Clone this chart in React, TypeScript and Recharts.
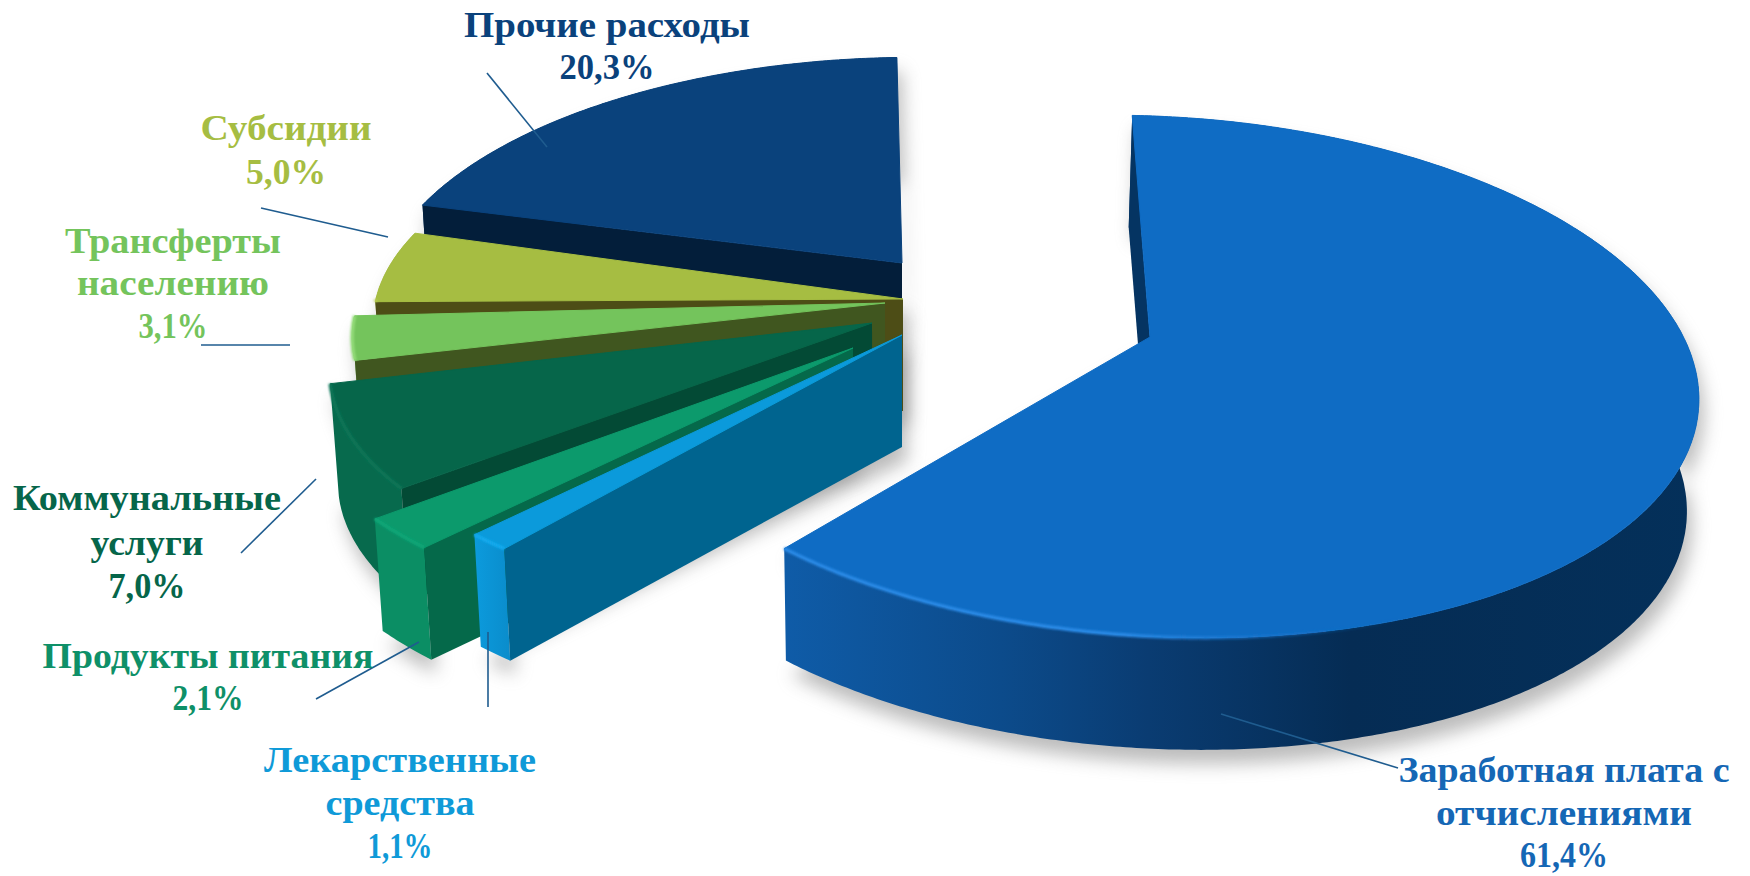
import { PieChart, Pie } from 'recharts';

// back to front, so later slices paint over earlier ones
const CATEGORIES = [
  'Прочие расходы',
  'Субсидии',
  'Трансферты населению',
  'Коммунальные услуги',
  'Продукты питания',
  'Лекарственные средства',
  'Заработная плата с отчислениями',
];
const VALUES = [20.3, 5.0, 3.1, 7.0, 2.1, 1.1, 61.4];

const LABEL_LINES = [
  ['Прочие расходы'],
  ['Субсидии'],
  ['Трансферты', 'населению'],
  ['Коммунальные', 'услуги'],
  ['Продукты питания'],
  ['Лекарственные', 'средства'],
  ['Заработная плата с', 'отчислениями'],
];

const data = CATEGORIES.map((name, i) => ({ name, value: VALUES[i], index: i }));

const CX = 900;
const CY = 320;
const RADIUS = 543;
const TILT = 0.469;
const PERSPECTIVE = 0.1516;
const DEPTH = 112;
const VANISH_X = 900;
const FLOOR_SCALE = 0.985;

// where each pulled-out slice sits relative to the pie centre, its ellipse scale and skew
const SLICE_LAYOUT = [
  { dx: 2, dy: -57, kx: 0.955, ky: 0.93, tx: 0, sx: -14, sy: 0 },
  { dx: 3, dy: -21, kx: 0.965, ky: 0.9, tx: 0, sx: 0, sy: 0.02 },
  { dx: -15, dy: -17, kx: 0.97, ky: 0.87, tx: 0, sx: 0, sy: 0 },
  { dx: -28, dy: 3, kx: 0.98, ky: 0.92, tx: 0, sx: -24, sy: 0 },
  { dx: -47, dy: 28, kx: 1.033, ky: 0.95, tx: 0, sx: 0, sy: 0 },
  { dx: 2, dy: 15, kx: 1.03, ky: 0.95, tx: 0, sx: 0, sy: 0 },
  { dx: 250, dy: 17, kx: 0.984, ky: 1.0, tx: 7, sx: 7, sy: 0.035 },
];

const SLICE_COLORS = [
  { face: '#0A427C', side: '#0A3A6C', cut: '#031E3A', text: '#0A427C', rim: 'none' },
  { face: '#A6BD42', side: '#93A838', cut: '#4D4D16', text: '#A6BD42', rim: '#B9CC55' },
  { face: '#74C45C', side: '#6AB553', cut: '#40561F', text: '#74C45C', rim: '#94DC7A' },
  { face: '#06664A', side: '#076A4D', cut: '#034A35', text: '#06664A', rim: '#0B7556' },
  { face: '#0C9A6C', side: '#0B8E64', cut: '#05694A', text: '#0E9068', rim: '#10A677' },
  { face: '#0B9ADB', side: 'url(#lekWall)', cut: '#00648F', text: '#0F9AD8', rim: '#12AAEE' },
  { face: '#0F6CC4', side: 'url(#bigWall)', cut: '#053462', text: '#1567B5', rim: 'url(#bigRim)' },
];

// text block: centre x, line baselines, fitted widths (last entry is the percent line)
const LABEL_LAYOUT = [
  { x: 607, y: [37, 79], w: [286, 95], line: [487, 73, 547, 147] },
  { x: 286, y: [140, 184], w: [171, 80], line: [261, 208, 388, 237] },
  { x: 173, y: [253, 295, 338], w: [216, 192, 69], line: [201, 345, 290, 345] },
  { x: 147, y: [510, 555, 598], w: [268, 113, 77], line: [316, 479, 241, 553] },
  { x: 208, y: [668, 710], w: [331, 71], line: [419, 642, 316, 699] },
  { x: 400, y: [772, 815, 858], w: [272, 149, 65], line: [488, 632, 488, 707] },
  { x: 1564, y: [782, 825, 867], w: [331, 256, 88], line: [1221, 714, 1398, 768] },
];

const project = (angle: number, i: number, cx: number, cy: number, r: number, floor = false) => {
  const { dx, dy, kx, ky, tx, sx, sy } = SLICE_LAYOUT[i];
  const t = ((90 - angle) * Math.PI) / 180;
  const X = Math.sin(t);
  const Y = -Math.cos(t);
  const w = 1 - PERSPECTIVE * Y;
  const x = cx + dx + (r * kx * X + tx + sx * Y) / w;
  const y = cy + dy + (r * TILT * ky * Y + sy * r * kx * X) / w;
  if (!floor) return [x, y];
  return [VANISH_X + (x - VANISH_X) * FLOOR_SCALE, y + DEPTH];
};

const apex = (i: number, cx: number, cy: number, floor = false) => {
  const { dx, dy } = SLICE_LAYOUT[i];
  const x = cx + dx;
  const y = cy + dy;
  if (!floor) return [x, y];
  return [VANISH_X + (x - VANISH_X) * FLOOR_SCALE, y + DEPTH];
};

const arc = (a1: number, a2: number, i: number, cx: number, cy: number, r: number, floor = false) => {
  const pts: number[][] = [];
  const n = Math.max(2, Math.ceil(Math.abs(a2 - a1) * 2));
  for (let k = 0; k <= n; k++) {
    pts.push(project(a1 + ((a2 - a1) * k) / n, i, cx, cy, r, floor));
  }
  return pts;
};

const toPath = (pts: number[][], close = true) =>
  pts.map((p, k) => `${k ? 'L' : 'M'}${p[0].toFixed(1)} ${p[1].toFixed(1)}`).join(' ') + (close ? ' Z' : '');

const Slice3D = (props: any) => {
  const { cx, cy, outerRadius, startAngle, endAngle, payload } = props;
  const i = payload.index;
  const c = SLICE_COLORS[i];
  const a1 = Math.min(startAngle, endAngle);
  const a2 = Math.max(startAngle, endAngle);
  const top = arc(a1, a2, i, cx, cy, outerRadius);
  const floor = arc(a1, a2, i, cx, cy, outerRadius, true);
  const topApex = apex(i, cx, cy);
  const floorApex = apex(i, cx, cy, true);
  const startTop = project(a2, i, cx, cy, outerRadius);
  const startFloor = project(a2, i, cx, cy, outerRadius, true);
  // the bevel only catches light on the part of the rim nearer the viewer
  const rimPoints = top.filter((p) => p[1] > topApex[1]);
  return (
    <g>
      <path d={toPath([...top, ...[...floor].reverse()])} fill={c.side} />
      <path d={toPath([topApex, startTop, startFloor, floorApex])} fill={c.cut} />
      <path d={toPath([topApex, ...top])} fill={c.face} stroke={c.face} strokeWidth={1} strokeLinejoin="round" />
      {c.rim !== 'none' && rimPoints.length > 1 && (
        <path d={toPath(rimPoints, false)} fill="none" stroke={c.rim} strokeWidth={3.5} filter="url(#rimBlur)" />
      )}
    </g>
  );
};

const SliceShadow = (props: any) => {
  const { cx, cy, outerRadius, startAngle, endAngle, payload } = props;
  const i = payload.index;
  const a1 = Math.min(startAngle, endAngle);
  const a2 = Math.max(startAngle, endAngle);
  const top = arc(a1, a2, i, cx, cy, outerRadius);
  const floor = arc(a1, a2, i, cx, cy, outerRadius, true);
  const shadow = [apex(i, cx, cy), ...top, ...[...floor].reverse(), apex(i, cx, cy, true)];
  return <path d={toPath(shadow)} fill="#7a7a7a" opacity={0.5} transform="translate(5 14)" filter="url(#softShadow)" />;
};

const SliceLabel = (props: any) => {
  const i = props.payload?.index ?? props.index;
  const layout = LABEL_LAYOUT[i];
  const lines = [...LABEL_LINES[i], `${VALUES[i].toFixed(1).replace('.', ',')}%`];
  const [x1, y1, x2, y2] = layout.line;
  return (
    <g>
      <line x1={x1} y1={y1} x2={x2} y2={y2} stroke="#1F5C8F" strokeWidth={1.6} />
      {lines.map((t, k) => (
        <text
          key={t}
          x={layout.x}
          y={layout.y[k]}
          textAnchor="middle"
          textLength={layout.w[k]}
          lengthAdjust="spacingAndGlyphs"
          fontFamily="'Liberation Serif', serif"
          fontWeight={700}
          fontSize={36}
          fill={SLICE_COLORS[i].text}
        >
          {t}
        </text>
      ))}
    </g>
  );
};

const App = () => {
  return (
    <div style={{ position: 'absolute', left: 0, top: 0, width: 1750, height: 876, background: '#fff' }}>
      <PieChart width={1750} height={876} margin={{ top: 0, right: 0, bottom: 0, left: 0 }}>
        <defs>
          <filter id="softShadow" x="-10%" y="-10%" width="120%" height="130%">
            <feGaussianBlur stdDeviation="9" />
          </filter>
          <filter id="rimBlur" filterUnits="userSpaceOnUse" x="0" y="0" width="1750" height="876">
            <feGaussianBlur stdDeviation="1.2" />
          </filter>
          <linearGradient id="bigWall" gradientUnits="userSpaceOnUse" x1="781" y1="0" x2="1700" y2="0">
            <stop offset="0" stopColor="#0F5CA8" />
            <stop offset="0.24" stopColor="#0C4B8B" />
            <stop offset="0.4" stopColor="#0A3C72" />
            <stop offset="0.62" stopColor="#052C54" />
            <stop offset="1" stopColor="#04305A" />
          </linearGradient>
          <linearGradient id="bigRim" gradientUnits="userSpaceOnUse" x1="781" y1="0" x2="1400" y2="0">
            <stop offset="0" stopColor="#2A8AE6" />
            <stop offset="0.55" stopColor="#2A8AE6" />
            <stop offset="1" stopColor="#0F6CC4" stopOpacity="0" />
          </linearGradient>
          <linearGradient id="lekWall" gradientUnits="userSpaceOnUse" x1="474" y1="0" x2="511" y2="0">
            <stop offset="0" stopColor="#0C9BDD" />
            <stop offset="1" stopColor="#0A8CCB" />
          </linearGradient>
        </defs>
        <Pie
          data={data}
          dataKey="value"
          nameKey="name"
          cx={CX}
          cy={CY}
          outerRadius={RADIUS}
          startAngle={92.2}
          endAngle={452.2}
          stroke="none"
          isAnimationActive={false}
          label={false}
          labelLine={false}
          shape={SliceShadow}
          inactiveShape={SliceShadow}
          activeShape={SliceShadow}
        />
        <Pie
          data={data}
          dataKey="value"
          nameKey="name"
          cx={CX}
          cy={CY}
          outerRadius={RADIUS}
          startAngle={92.2}
          endAngle={452.2}
          stroke="none"
          isAnimationActive={false}
          label={SliceLabel}
          labelLine={false}
          shape={Slice3D}
          inactiveShape={Slice3D}
          activeShape={Slice3D}
        />
      </PieChart>
    </div>
  );
};

export default App;
